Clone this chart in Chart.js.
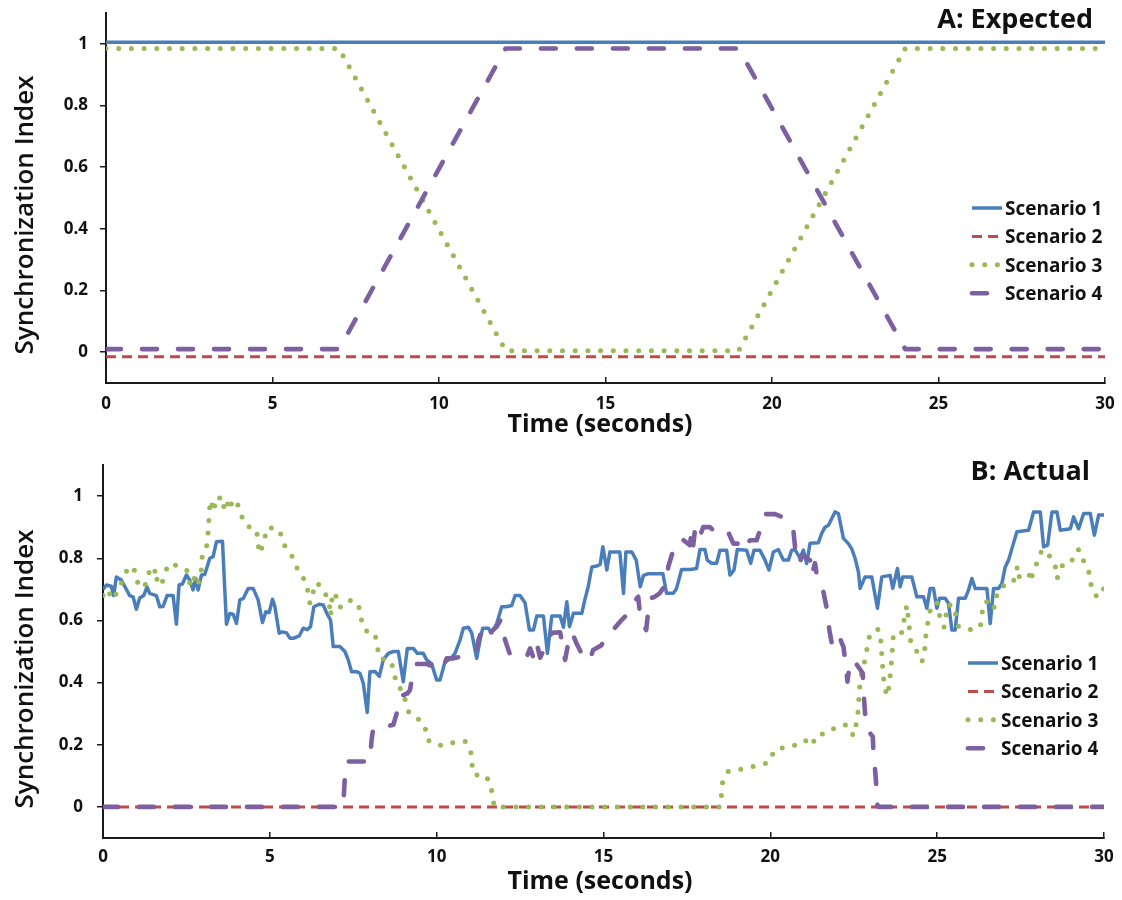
<!DOCTYPE html>
<html>
<head>
<meta charset="utf-8">
<script src="https://cdn.jsdelivr.net/npm/chart.js@4.4.1/dist/chart.umd.min.js"></script>
<style>
  html, body { margin: 0; padding: 0; background: #fff; }
  #wrap { position: relative; width: 1122px; height: 900px; }
  canvas { position: absolute; left: 0; }
  #chartA { top: 0; }
  #chartB { top: 450px; }
</style>
</head>
<body>
<div id="wrap">
  <canvas id="chartA" width="1122" height="450"></canvas>
  <canvas id="chartB" width="1122" height="450"></canvas>
</div>
<script>
// ---- data ----
const seriesNames = ["Scenario 1", "Scenario 2", "Scenario 3", "Scenario 4"];
const yTicks = [0, 0.2, 0.4, 0.6, 0.8, 1];
const xTicks = [0, 5, 10, 15, 20, 25, 30];

// A: Expected
const expS1Time = [0, 30];
const expS1 = [1.005, 1.005];
const expS2Time = [0, 30];
const expS2 = [-0.015, -0.015];
const expS3Time = [0, 7, 12, 19, 24, 30];
const expS3 = [0.985, 0.985, 0.005, 0.005, 0.985, 0.985];
const expS4Time = [0, 7, 12, 19, 24, 30];
const expS4 = [0.01, 0.01, 0.985, 0.985, 0.01, 0.01];

// B: Actual
const actS1Time = [0, 0.1, 0.25, 0.32, 0.4, 0.55, 0.65, 0.8, 0.9, 1.0, 1.1, 1.22, 1.32, 1.4, 1.6, 1.7, 1.8, 1.92, 2.1, 2.2,
  2.28, 2.38, 2.5, 2.6, 2.7, 2.78, 2.85, 2.95, 3.05, 3.2, 3.3, 3.4, 3.58, 3.7, 3.8, 3.9, 4.0, 4.1, 4.2, 4.35,
  4.5, 4.65, 4.78, 4.88, 4.98, 5.08, 5.15, 5.28, 5.38, 5.5, 5.6, 5.72, 5.88, 6.0, 6.12, 6.22, 6.32, 6.48, 6.6, 6.72,
  6.82, 6.9, 7.1, 7.25, 7.35, 7.45, 7.6, 7.7, 7.8, 7.92, 8.0, 8.15, 8.28, 8.4, 8.55, 8.7, 8.85, 9.0, 9.12, 9.3,
  9.42, 9.6, 9.7, 9.85, 10.0, 10.1, 10.25, 10.4, 10.55, 10.7, 10.8, 10.95, 11.05, 11.2, 11.3, 11.38, 11.55, 11.65, 11.8, 11.95,
  12.08, 12.25, 12.35, 12.5, 12.65, 12.78, 12.9, 13.0, 13.2, 13.32, 13.45, 13.7, 13.8, 13.9, 13.98, 14.1, 14.35, 14.44, 14.54, 14.65,
  14.8, 14.9, 14.98, 15.05, 15.1, 15.19, 15.49, 15.6, 15.67, 15.85, 15.98, 16.1, 16.2, 16.33, 16.78, 16.89, 17.09, 17.19, 17.34, 17.59,
  17.79, 17.89, 18.04, 18.11, 18.24, 18.39, 18.49, 18.69, 18.79, 18.91, 19.01, 19.29, 19.41, 19.51, 19.69, 19.84, 19.96, 20.09, 20.24, 20.39,
  20.54, 20.64, 20.74, 20.89, 20.99, 21.09, 21.19, 21.44, 21.54, 21.64, 21.74, 21.94, 22.04, 22.19, 22.34, 22.44, 22.54, 22.64, 22.69, 22.84,
  23.04, 23.21, 23.34, 23.59, 23.67, 23.81, 23.89, 23.97, 24.24, 24.39, 24.59, 24.69, 24.79, 24.89, 24.99, 25.07, 25.24, 25.34, 25.44, 25.54,
  25.64, 25.84, 25.94, 26.04, 26.14, 26.49, 26.59, 26.69, 26.84, 26.94, 27.04, 27.14, 27.24, 27.39, 27.74, 27.89, 28.09, 28.19, 28.31, 28.44,
  28.59, 28.69, 28.99, 29.09, 29.24, 29.39, 29.59, 29.71, 29.84, 30];
const actS1 = [0.70, 0.714, 0.71, 0.68, 0.74, 0.73, 0.71, 0.68, 0.676, 0.636, 0.672, 0.68, 0.708, 0.687, 0.68, 0.644, 0.645, 0.68, 0.68, 0.588,
  0.714, 0.717, 0.746, 0.73, 0.698, 0.735, 0.698, 0.746, 0.748, 0.8, 0.805, 0.853, 0.855, 0.588, 0.622, 0.62, 0.59, 0.666, 0.67, 0.703,
  0.703, 0.666, 0.593, 0.628, 0.625, 0.668, 0.645, 0.559, 0.563, 0.56, 0.543, 0.543, 0.55, 0.575, 0.57, 0.58, 0.644, 0.652, 0.65, 0.62,
  0.601, 0.516, 0.516, 0.5, 0.473, 0.435, 0.435, 0.43, 0.398, 0.304, 0.435, 0.436, 0.42, 0.473, 0.494, 0.5, 0.5, 0.403, 0.51, 0.51,
  0.494, 0.494, 0.473, 0.46, 0.408, 0.408, 0.467, 0.475, 0.494, 0.537, 0.575, 0.578, 0.56, 0.478, 0.537, 0.575, 0.575, 0.56, 0.59, 0.644,
  0.644, 0.648, 0.68, 0.68, 0.656, 0.569, 0.569, 0.614, 0.614, 0.494, 0.614, 0.614, 0.578, 0.66, 0.58, 0.623, 0.623, 0.666, 0.708, 0.772,
  0.775, 0.78, 0.837, 0.794, 0.762, 0.82, 0.82, 0.687, 0.82, 0.82, 0.794, 0.708, 0.745, 0.75, 0.75, 0.687, 0.687, 0.703, 0.764, 0.764,
  0.767, 0.828, 0.828, 0.794, 0.784, 0.784, 0.826, 0.826, 0.746, 0.762, 0.828, 0.826, 0.784, 0.826, 0.826, 0.794, 0.762, 0.82, 0.828, 0.794,
  0.794, 0.826, 0.828, 0.8, 0.826, 0.783, 0.848, 0.85, 0.88, 0.9, 0.906, 0.949, 0.944, 0.864, 0.847, 0.83, 0.8, 0.756, 0.703, 0.74,
  0.74, 0.639, 0.74, 0.745, 0.703, 0.767, 0.708, 0.74, 0.74, 0.676, 0.676, 0.639, 0.703, 0.703, 0.639, 0.671, 0.671, 0.655, 0.569, 0.569,
  0.671, 0.671, 0.698, 0.735, 0.703, 0.703, 0.59, 0.703, 0.703, 0.719, 0.772, 0.794, 0.831, 0.885, 0.89, 0.949, 0.949, 0.837, 0.842, 0.949,
  0.949, 0.89, 0.895, 0.933, 0.895, 0.944, 0.944, 0.874, 0.939, 0.939];

const actS2Time = [0, 30];
const actS2 = [0, 0];

const actS3Time = [0, 0.1, 0.32, 0.48, 0.63, 0.75, 0.93, 1.0, 1.2, 1.35, 1.4, 1.55, 1.6, 1.65, 1.78, 1.85, 1.95, 2.3, 2.52, 2.6,
  2.7, 2.8, 2.93, 2.98, 3.12, 3.15, 3.2, 3.25, 3.3, 3.35, 3.48, 3.6, 3.7, 3.78, 3.9, 4.05, 4.15, 4.3, 4.6, 4.65,
  4.68, 4.75, 4.85, 4.95, 5.3, 5.38, 5.58, 5.75, 5.85, 6.05, 6.15, 6.2, 6.28, 6.35, 6.48, 6.65, 6.78, 6.82, 6.88, 7.0,
  7.1, 7.35, 7.65, 7.72, 7.8, 7.95, 8.15, 8.22, 8.28, 8.4, 8.63, 8.73, 8.8, 9.0, 9.08, 9.18, 9.45, 9.65, 9.7, 9.93,
  10.2, 10.53, 10.85, 11.02, 11.05, 11.12, 11.45, 11.62, 11.67, 11.73, 18.5, 18.54, 18.57, 18.74, 19.06, 19.39, 19.75, 19.99, 20.11, 20.44,
  20.79, 21.04, 21.24, 21.39, 21.71, 21.99, 22.29, 22.49, 22.56, 22.62, 22.67, 22.71, 22.77, 22.84, 22.91, 22.99, 23.24, 23.31, 23.36, 23.39,
  23.44, 23.52, 23.57, 23.64, 23.69, 23.94, 23.99, 24.09, 24.14, 24.21, 24.39, 24.54, 24.61, 24.67, 24.79, 24.99, 25.11, 25.21, 25.31, 25.49,
  25.64, 25.97, 26.29, 26.39, 26.64, 26.71, 26.79, 26.94, 27.27, 27.41, 27.47, 27.61, 27.77, 27.81, 27.89, 28.04, 28.14, 28.37, 28.54, 28.59,
  28.67, 28.79, 29.11, 29.24, 29.39, 29.54, 29.57, 29.69, 29.77, 29.94, 30];
const actS3 = [0.68, 0.70, 0.667, 0.708, 0.735, 0.772, 0.767, 0.727, 0.703, 0.732, 0.772, 0.762, 0.725, 0.746, 0.725, 0.746, 0.781, 0.775, 0.76, 0.72,
  0.746, 0.71, 0.738, 0.817, 0.843, 0.885, 0.965, 0.987, 0.95, 0.97, 1.0, 0.961, 0.99, 0.955, 0.99, 0.97, 0.936, 0.904, 0.893, 0.85,
  0.815, 0.83, 0.868, 0.9, 0.89, 0.85, 0.82, 0.792, 0.755, 0.73, 0.69, 0.655, 0.68, 0.72, 0.715, 0.69, 0.655, 0.614, 0.69, 0.676,
  0.642, 0.666, 0.655, 0.614, 0.575, 0.562, 0.558, 0.518, 0.478, 0.476, 0.47, 0.43, 0.39, 0.373, 0.332, 0.3, 0.283, 0.26, 0.218, 0.202,
  0.197, 0.208, 0.211, 0.181, 0.141, 0.103, 0.103, 0.074, 0.034, 0, 0, 0.045, 0.08, 0.114, 0.12, 0.128, 0.135, 0.146, 0.182, 0.192,
  0.2, 0.215, 0.197, 0.232, 0.237, 0.259, 0.264, 0.229, 0.259, 0.293, 0.376, 0.419, 0.446, 0.473, 0.518, 0.559, 0.572, 0.537, 0.46, 0.417,
  0.377, 0.357, 0.4, 0.478, 0.559, 0.561, 0.591, 0.649, 0.604, 0.527, 0.5, 0.467, 0.483, 0.563, 0.633, 0.66, 0.595, 0.578, 0.65, 0.65,
  0.58, 0.57, 0.578, 0.657, 0.665, 0.641, 0.682, 0.71, 0.72, 0.775, 0.735, 0.735, 0.746, 0.725, 0.764, 0.794, 0.828, 0.807, 0.775, 0.735,
  0.751, 0.788, 0.796, 0.828, 0.791, 0.762, 0.721, 0.706, 0.677, 0.704, 0.70];

const actS4Time = [0, 7.2, 7.25, 7.3, 8.0, 8.05, 8.1, 8.3, 8.7, 8.8, 8.9, 9.12, 9.2, 9.25, 9.4, 9.7, 9.8, 9.95, 10.2, 10.3,
  10.5, 10.85, 11.0, 11.2, 11.25, 11.4, 11.5, 11.6, 11.8, 11.92, 12.05, 12.2, 12.4, 12.7, 12.8, 12.9, 13.0, 13.1, 13.35, 13.45,
  13.7, 13.8, 13.85, 14.0, 14.1, 14.2, 14.44, 14.59, 14.69, 14.94, 15.04, 15.24, 15.54, 15.74, 15.89, 15.99, 16.04, 16.1, 16.28, 16.38,
  16.53, 16.68, 16.89, 16.94, 17.09, 17.24, 17.34, 17.59, 17.64, 17.69, 17.74, 17.84, 17.99, 18.19, 18.29, 18.39, 18.59, 18.74, 18.89, 19.04,
  19.24, 19.29, 19.39, 19.59, 19.69, 19.84, 20.14, 20.39, 20.69, 20.74, 20.79, 20.89, 20.94, 21.19, 21.24, 21.34, 21.39, 21.59, 21.69, 21.77,
  21.84, 22.04, 22.14, 22.19, 22.27, 22.31, 22.39, 22.49, 22.77, 22.79, 22.84, 22.89, 22.99, 23.07, 23.09, 23.14, 23.17, 23.19, 23.24, 30];
const actS4 = [0, 0, 0.1, 0.146, 0.146, 0.216, 0.254, 0.254, 0.264, 0.3, 0.355, 0.365, 0.376, 0.408, 0.46, 0.46, 0.455, 0.47, 0.451, 0.478,
  0.478, 0.486, 0.494, 0.505, 0.537, 0.58, 0.583, 0.56, 0.58, 0.603, 0.537, 0.489, 0.483, 0.483, 0.51, 0.48, 0.526, 0.48, 0.537, 0.56,
  0.562, 0.505, 0.473, 0.56, 0.55, 0.524, 0.473, 0.473, 0.505, 0.52, 0.542, 0.563, 0.601, 0.623, 0.644, 0.67, 0.676, 0.612, 0.569, 0.67,
  0.676, 0.687, 0.719, 0.772, 0.826, 0.842, 0.863, 0.842, 0.89, 0.842, 0.89, 0.858, 0.9, 0.9, 0.89, 0.9, 0.895, 0.884, 0.847, 0.847,
  0.863, 0.842, 0.858, 0.858, 0.89, 0.942, 0.942, 0.931, 0.89, 0.837, 0.794, 0.784, 0.81, 0.794, 0.746, 0.784, 0.746, 0.692, 0.639, 0.569,
  0.527, 0.56, 0.527, 0.516, 0.451, 0.403, 0.467, 0.473, 0.43, 0.376, 0.3, 0.258, 0.237, 0.226, 0.183, 0.119, 0.076, 0.011, 0, 0];

// ---- styles ----
const FONT = '"Open Sans", Lato, sans-serif';
const seriesStyles = [
  { color: "#4A7EBB", width: 3.5, dash: [], cap: "butt", order: 3 },
  { color: "#BE4B48", width: 3, dash: [10, 6], cap: "butt", order: 2 },
  { color: "#98B954", width: 5, dash: [0, 12.7], cap: "round", order: 1 },
  { color: "#7D60A0", width: 4.6, dash: [15, 21], cap: "round", order: 0 }
];

function pairs(times, values) {
  return times.map((t, i) => ({ x: t, y: values[i] }));
}

const panelText = {
  id: "panelText",
  afterDraw(chart, args, opts) {
    const { ctx } = chart;
    ctx.save();
    ctx.fillStyle = "#111";
    ctx.textBaseline = "alphabetic";
    // panel title
    ctx.font = "bold 27px " + FONT;
    ctx.textAlign = "right";
    ctx.fillText(opts.title, opts.titleRight, opts.titleBase);
    // x axis title
    ctx.font = "bold 25px " + FONT;
    ctx.textAlign = "center";
    ctx.fillText("Time (seconds)", opts.xTitleX, opts.xTitleBase);
    // y axis title
    ctx.font = "600 26px " + FONT;
    ctx.translate(opts.yTitleBase, opts.yTitleY);
    ctx.rotate(-Math.PI / 2);
    ctx.fillText("Synchronization Index", 0, 0);
    ctx.restore();
  }
};

const lineLegend = {
  id: "lineLegend",
  afterDraw(chart, args, opts) {
    const { ctx, chartArea } = chart;
    const x1 = chartArea.right - opts.fromRight;
    ctx.save();
    ctx.font = "bold 19px " + FONT;
    ctx.textBaseline = "alphabetic";
    ctx.textAlign = "left";
    seriesNames.forEach((name, i) => {
      const st = seriesStyles[i];
      const y = chartArea.top + opts.firstRow + i * opts.rowGap;
      ctx.strokeStyle = st.color;
      ctx.lineWidth = st.width;
      ctx.lineCap = st.cap;
      ctx.setLineDash(st.dash);
      ctx.beginPath();
      ctx.moveTo(x1, y);
      ctx.lineTo(x1 + 30, y);
      ctx.stroke();
      ctx.setLineDash([]);
      ctx.fillStyle = "#111";
      ctx.fillText(name, x1 + 33, y + 7);
    });
    ctx.restore();
  }
};

function makeChart(id, data, layout) {
  const datasets = data.map((pts, i) => ({
    label: seriesNames[i],
    data: pts,
    borderColor: seriesStyles[i].color,
    borderWidth: seriesStyles[i].width,
    borderDash: seriesStyles[i].dash,
    borderCapStyle: seriesStyles[i].cap,
    borderJoinStyle: "round",
    order: seriesStyles[i].order,
    pointRadius: 0,
    fill: false,
    tension: 0
  }));

  return new Chart(document.getElementById(id), {
    type: "line",
    data: { datasets },
    plugins: [panelText, lineLegend],
    options: {
      responsive: false,
      animation: false,
      devicePixelRatio: 1,
      layout: { padding: { top: layout.top, right: layout.right, left: 0, bottom: 0 } },
      plugins: {
        legend: { display: false },
        tooltip: { enabled: false },
        panelText: layout.text,
        lineLegend: { fromRight: layout.legendRight, firstRow: layout.legendTop, rowGap: 28.4 }
      },
      scales: {
        x: {
          type: "linear",
          min: 0,
          max: 30,
          afterBuildTicks: (s) => { s.ticks = xTicks.map((v) => ({ value: v })); },
          afterFit: (s) => { s.height = layout.xHeight; s.paddingLeft = 0; s.paddingRight = 0; },
          border: { display: true, color: "#1a1a1a", width: 2 },
          grid: { display: true, drawOnChartArea: false, drawTicks: true, tickLength: -6, color: "#1a1a1a", lineWidth: 1.5 },
          ticks: { padding: layout.xPad, color: "#111", font: { family: FONT, size: 17, weight: "bold" }, maxRotation: 0 }
        },
        y: {
          min: -0.1,
          max: 1.1,
          afterBuildTicks: (s) => { s.ticks = yTicks.map((v) => ({ value: v })); },
          afterFit: (s) => { s.width = layout.yWidth; s.paddingTop = 0; s.paddingBottom = 0; },
          border: { display: true, color: "#1a1a1a", width: 2 },
          grid: { display: true, drawOnChartArea: false, drawTicks: true, tickLength: 6, color: "#1a1a1a", lineWidth: 1.5 },
          ticks: {
            padding: layout.yPad,
            color: "#111",
            font: { family: FONT, size: 17, weight: "bold" },
            callback: (v) => String(Math.round(v * 10) / 10)
          }
        }
      }
    }
  });
}

makeChart("chartA",
  [pairs(expS1Time, expS1), pairs(expS2Time, expS2), pairs(expS3Time, expS3), pairs(expS4Time, expS4)],
  {
    top: 13, right: 17, xHeight: 67, yWidth: 106, xPad: 17, yPad: 12, legendTop: 195, legendRight: 133,
    text: { title: "A: Expected", titleRight: 1093, titleBase: 28, xTitleX: 600, xTitleBase: 432, yTitleBase: 33, yTitleY: 215 }
  });

makeChart("chartB",
  [pairs(actS1Time, actS1), pairs(actS2Time, actS2), pairs(actS3Time, actS3), pairs(actS4Time, actS4)],
  {
    top: 15, right: 18, xHeight: 62, yWidth: 103, xPad: 15, yPad: 14, legendTop: 198, legendRight: 136,
    text: { title: "B: Actual", titleRight: 1090, titleBase: 30, xTitleX: 600, xTitleBase: 439, yTitleBase: 33, yTitleY: 219 }
  });
</script>
</body>
</html>
